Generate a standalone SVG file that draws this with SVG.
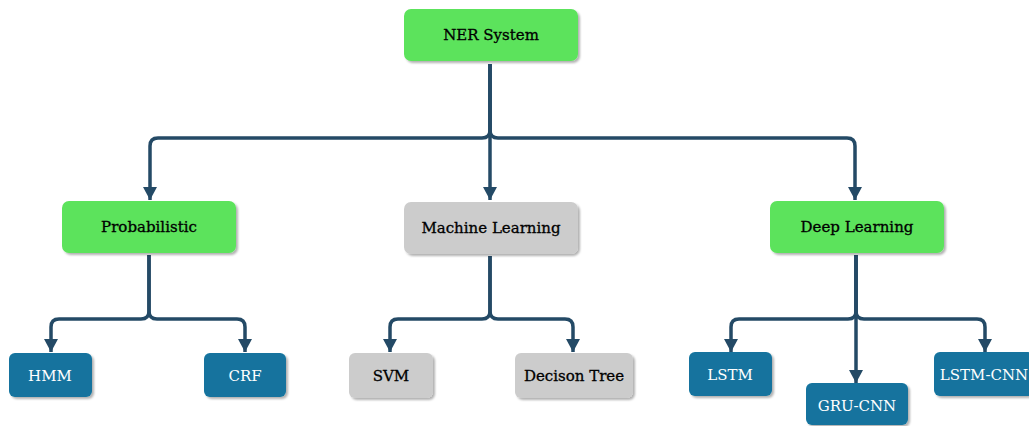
<svg xmlns="http://www.w3.org/2000/svg" width="1029" height="426" viewBox="0 0 1029 426">
<style>
.green{fill:#5ce35c}
.gray{fill:#cccccc}
.blue{fill:#12739e}
.t{font-family:"DejaVu Serif",serif;font-size:15px;text-anchor:middle;dominant-baseline:central;fill:#000;stroke:#000;stroke-width:0.3}
.w{fill:#ffffff;stroke:none}
.c{fill:none;stroke:#244a66;stroke-width:3.5;stroke-linejoin:round}
</style>
<defs>
<filter id="sh" x="-10%" y="-10%" width="130%" height="140%">
<feDropShadow dx="2" dy="2" stdDeviation="1.2" flood-color="#000" flood-opacity="0.3"/>
</filter>
<marker id="ar" markerUnits="userSpaceOnUse" markerWidth="14" markerHeight="16" viewBox="0 0 14 16" refX="13" refY="8" orient="auto">
<path d="M0,1 L13,8 L0,15 Z" fill="#244a66"/>
</marker>
</defs>
<g id="connectors">
<path class="c" d="M490,64 V130 Q490,138 482,138 H158 Q150,138 150,146 V200" marker-end="url(#ar)"/>
<path class="c" d="M490,64 V200" marker-end="url(#ar)"/>
<path class="c" d="M490,64 V130 Q490,138 498,138 H847 Q855,138 855,146 V200" marker-end="url(#ar)"/>
<path class="c" d="M149,255 V311 Q149,319 141,319 H59 Q51,319 51,327 V352" marker-end="url(#ar)"/>
<path class="c" d="M149,255 V311 Q149,319 157,319 H237 Q245,319 245,327 V352" marker-end="url(#ar)"/>
<path class="c" d="M490,256 V311 Q490,319 482,319 H398 Q390,319 390,327 V352" marker-end="url(#ar)"/>
<path class="c" d="M490,256 V311 Q490,319 498,319 H565 Q573,319 573,327 V352" marker-end="url(#ar)"/>
<path class="c" d="M856,255 V311 Q856,319 848,319 H739 Q731,319 731,327 V352" marker-end="url(#ar)"/>
<path class="c" d="M856,255 V383" marker-end="url(#ar)"/>
<path class="c" d="M856,255 V311 Q856,319 864,319 H977 Q985,319 985,327 V352" marker-end="url(#ar)"/>
</g>
<g id="ner"><rect class="green" x="404" y="9" width="174" height="52" rx="7" filter="url(#sh)"/><text class="t" x="491" y="35">NER System</text></g>
<g id="prob"><rect class="green" x="62" y="201" width="174" height="52" rx="7" filter="url(#sh)"/><text class="t" x="149" y="227">Probabilistic</text></g>
<g id="ml"><rect class="gray" x="404" y="202" width="174" height="52" rx="7" filter="url(#sh)"/><text class="t" x="491" y="228">Machine Learning</text></g>
<g id="dl"><rect class="green" x="770" y="201" width="174" height="52" rx="7" filter="url(#sh)"/><text class="t" x="857" y="227">Deep Learning</text></g>
<g id="hmm"><rect class="blue" x="9" y="353" width="83" height="44" rx="6" filter="url(#sh)"/><text class="t w" x="50" y="376">HMM</text></g>
<g id="crf"><rect class="blue" x="204" y="353" width="82" height="44" rx="6" filter="url(#sh)"/><text class="t w" x="245" y="376">CRF</text></g>
<g id="svm"><rect class="gray" x="349" y="353" width="84" height="45" rx="6" filter="url(#sh)"/><text class="t" x="391" y="376">SVM</text></g>
<g id="dt"><rect class="gray" x="515" y="353" width="118" height="45" rx="6" filter="url(#sh)"/><text class="t" x="574" y="376">Decison Tree</text></g>
<g id="lstm"><rect class="blue" x="689" y="352" width="83" height="44" rx="6" filter="url(#sh)"/><text class="t w" x="730" y="375">LSTM</text></g>
<g id="gru"><rect class="blue" x="806" y="383" width="102" height="42" rx="6" filter="url(#sh)"/><text class="t w" x="857" y="406">GRU-CNN</text></g>
<g id="lstmcnn"><rect class="blue" x="934" y="352" width="100" height="44" rx="6" filter="url(#sh)"/><text class="t w" x="984" y="375">LSTM-CNN</text></g>
</svg>
